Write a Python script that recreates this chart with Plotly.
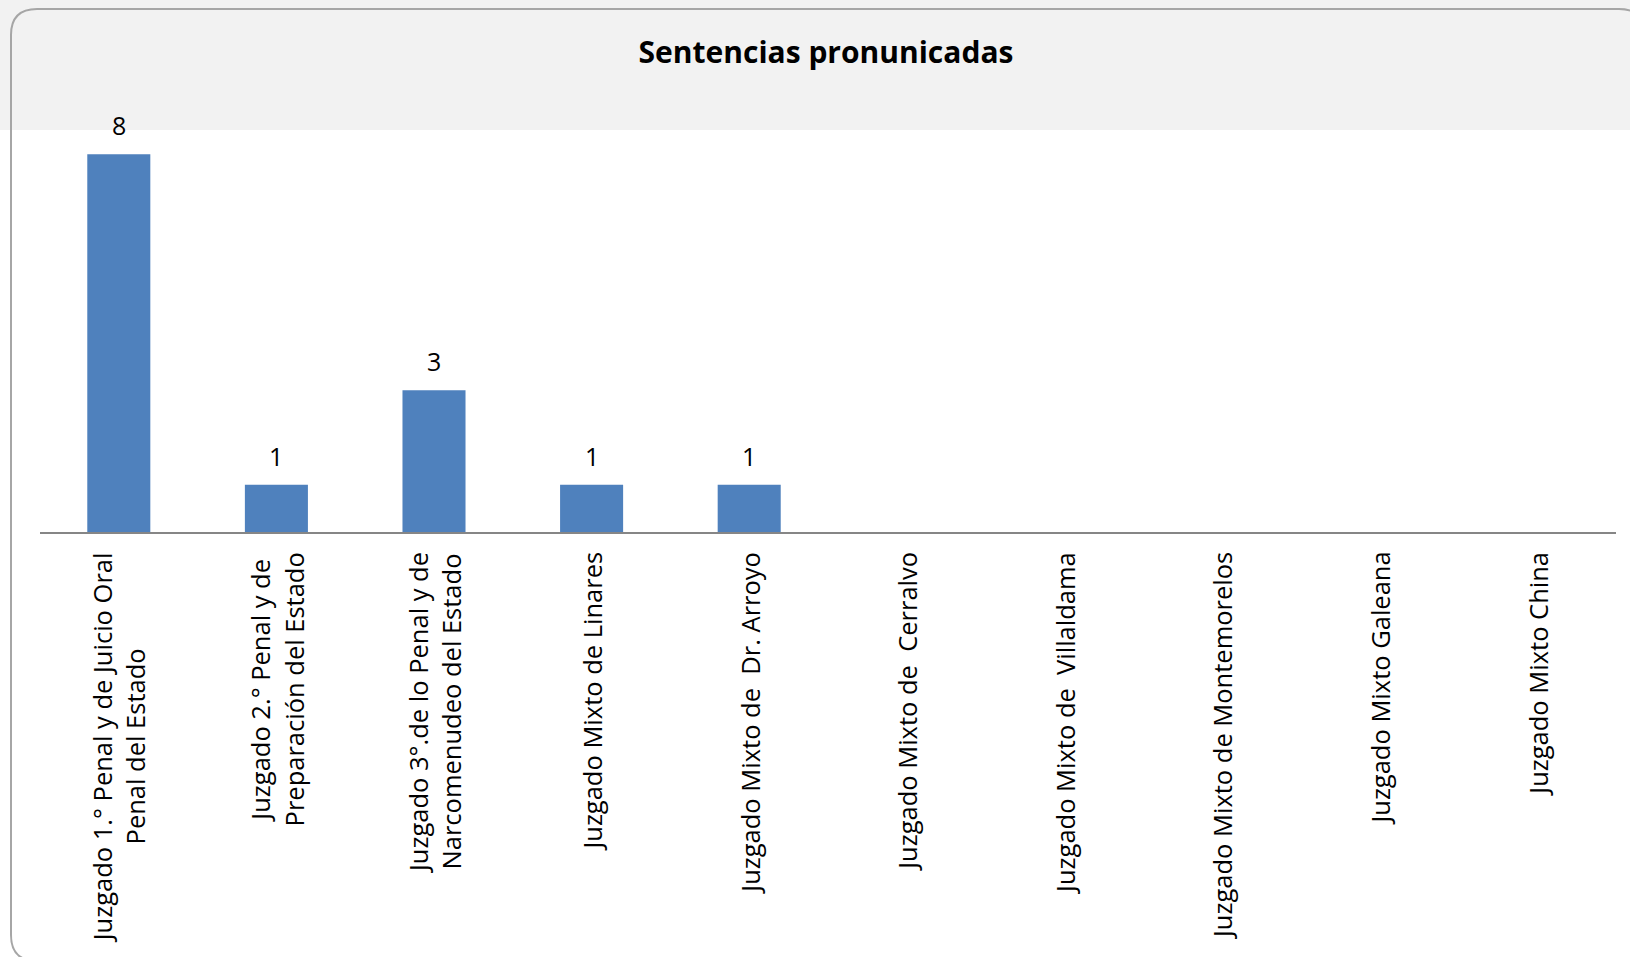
import plotly.graph_objects as go

categories = [
    "Juzgado 1.° Penal y de Juicio Oral<br>Penal del Estado",
    "Juzgado 2.° Penal y de<br>Preparación del Estado",
    "Juzgado 3°.de lo Penal y de<br>Narcomenudeo del Estado",
    "Juzgado Mixto de Linares",
    "Juzgado Mixto de \u00a0Dr. Arroyo",
    "Juzgado Mixto de \u00a0Cerralvo",
    "Juzgado Mixto de \u00a0Villaldama",
    "Juzgado Mixto de Montemorelos",
    "Juzgado Mixto Galeana",
    "Juzgado Mixto China",
]
values = [8, 1, 3, 1, 1, 0, 0, 0, 0, 0]
title_text = "Sentencias pronunicadas"

W, H = 1630, 957
L, R, T, B = 40, 14, 107, 425
PW, PH = W - L - R, H - T - B


def px(x):
    return (x - L) / PW


def py(y):
    return (H - B - y) / PH


FONT = "Open Sans"

fig = go.Figure()
fig.add_trace(go.Bar(
    x=list(range(len(categories))),
    y=values,
    marker=dict(color="#4f81bd", line=dict(width=0)),
    width=0.4,
    hoverinfo="skip",
))

annotations = []
for i, (c, v) in enumerate(zip(categories, values)):
    annotations.append(dict(
        x=i, y=0, xref="x", yref="paper", text=c, showarrow=False,
        textangle=-90, align="center", xanchor="center", yanchor="top",
        yshift=-18, font=dict(family=FONT, size=25.5, color="black"),
    ))
    if v:
        annotations.append(dict(
            x=i, y=v, xref="x", yref="y", text=str(v), showarrow=False,
            xanchor="center", yanchor="bottom", yshift=10,
            font=dict(family=FONT, size=25, color="black"),
        ))

# rounded frame (right and bottom edges run just past the page)
x0, y0, x1, y1, r = 11, 9, 1645, 961, 26
path = (
    f"M {px(x0)},{py(y0 + r)} "
    f"Q {px(x0)},{py(y0)} {px(x0 + r)},{py(y0)} "
    f"L {px(x1 - r)},{py(y0)} "
    f"Q {px(x1)},{py(y0)} {px(x1)},{py(y0 + r)} "
    f"L {px(x1)},{py(y1 - r)} "
    f"Q {px(x1)},{py(y1)} {px(x1 - r)},{py(y1)} "
    f"L {px(x0 + r)},{py(y1)} "
    f"Q {px(x0)},{py(y1)} {px(x0)},{py(y1 - r)} Z"
)

shapes = [
    dict(type="rect", xref="paper", yref="paper", x0=px(0), x1=px(W), y0=py(130), y1=py(0),
         fillcolor="#f2f2f2", line=dict(width=0), layer="below"),
    dict(type="path", xref="paper", yref="paper", path=path,
         line=dict(color="#a6a6a6", width=2), fillcolor="rgba(0,0,0,0)", layer="below"),
]

fig.update_layout(
    width=W, height=H,
    margin=dict(l=L, r=R, t=T, b=B, pad=0),
    paper_bgcolor="white", plot_bgcolor="rgba(0,0,0,0)",
    showlegend=False,
    title=dict(text=f"<b>{title_text}</b>", x=826 / W, y=1 - 52 / H, xanchor="center", yanchor="middle",
               font=dict(family=FONT, size=30, color="black")),
    xaxis=dict(range=[-0.5, len(categories) - 0.5], showticklabels=False, showgrid=False, zeroline=False,
               showline=True, linecolor="#868686", linewidth=2, ticks=""),
    yaxis=dict(range=[0, 9], visible=False, showgrid=False, zeroline=False),
    annotations=annotations,
    shapes=shapes,
)

fig.write_html("out.html", config={"displayModeBar": False},
               post_script="document.body.style.margin='0';document.body.style.overflow='hidden';")
